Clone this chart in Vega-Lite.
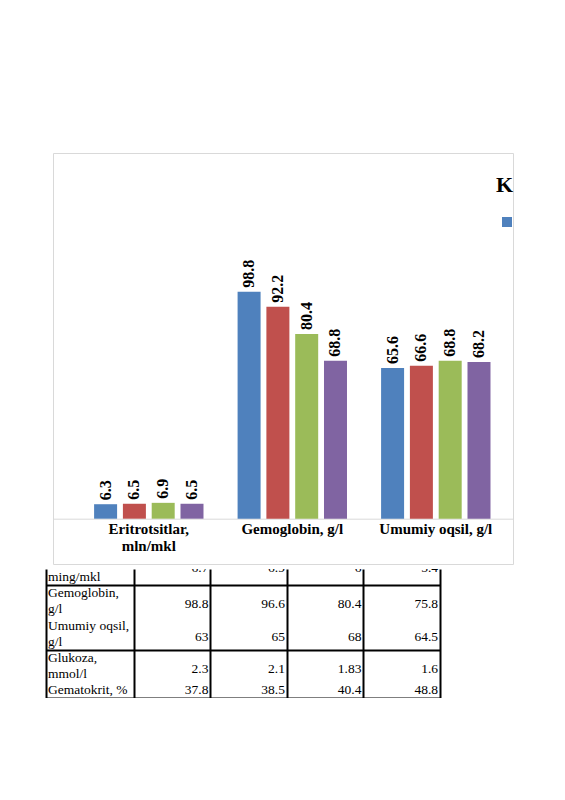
{
  "$schema": "https://vega.github.io/schema/vega-lite/v6.json",
  "background": "white",
  "padding": {"left": 46, "top": 152, "right": 0, "bottom": 0},
  "spacing": 4,
  "config": {"font": "Liberation Serif"},
  "vconcat": [
    {
      "spacing": 5,
      "hconcat": [
        {
          "width": 1,
          "height": 1,
          "view": {"stroke": null},
          "data": {"values": []},
          "mark": {"type": "point", "opacity": 0}
        },
        {
          "width": 460,
          "height": 411,
          "view": {"stroke": "#d9d9d9", "strokeWidth": 1},
          "title": {"text": "K", "anchor": "end", "frame": "group", "orient": "top", "offset": -44, "dx": 0, "font": "Liberation Serif", "fontSize": 22, "fontWeight": "bold", "color": "black"},
          "data": {"values": [
            {"cat": "Eritrotsitlar, mln/mkl", "grp": "I guruh", "v": 6.3},
            {"cat": "Eritrotsitlar, mln/mkl", "grp": "II guruh", "v": 6.5},
            {"cat": "Eritrotsitlar, mln/mkl", "grp": "III guruh", "v": 6.9},
            {"cat": "Eritrotsitlar, mln/mkl", "grp": "IV guruh", "v": 6.5},
            {"cat": "Gemoglobin, g/l", "grp": "I guruh", "v": 98.8},
            {"cat": "Gemoglobin, g/l", "grp": "II guruh", "v": 92.2},
            {"cat": "Gemoglobin, g/l", "grp": "III guruh", "v": 80.4},
            {"cat": "Gemoglobin, g/l", "grp": "IV guruh", "v": 68.8},
            {"cat": "Umumiy oqsil, g/l", "grp": "I guruh", "v": 65.6},
            {"cat": "Umumiy oqsil, g/l", "grp": "II guruh", "v": 66.6},
            {"cat": "Umumiy oqsil, g/l", "grp": "III guruh", "v": 68.8},
            {"cat": "Umumiy oqsil, g/l", "grp": "IV guruh", "v": 68.2}
          ]},
          "encoding": {
            "x": {
              "field": "cat", "type": "nominal", "sort": null,
              "scale": {"domain": ["Eritrotsitlar, mln/mkl", "Gemoglobin, g/l", "Umumiy oqsil, g/l"], "paddingInner": 0, "paddingOuter": 0.1028, "align": 0.815},
              "axis": {
                "orient": "bottom", "offset": -45.3, "title": null, "ticks": false,
                "domain": true, "domainColor": "#d9d9d9", "domainWidth": 1,
                "labelAngle": 0, "labelFont": "Liberation Serif", "labelFontSize": 15, "labelFontWeight": "bold", "labelColor": "black",
                "labelBaseline": "top", "labelPadding": 3, "labelLineHeight": 17,
                "labelExpr": "datum.value == 'Eritrotsitlar, mln/mkl' ? ['Eritrotsitlar,', 'mln/mkl'] : datum.label"
              }
            },
            "xOffset": {
              "field": "grp", "type": "nominal", "sort": null,
              "scale": {"domain": ["I guruh", "II guruh", "III guruh", "IV guruh"], "paddingInner": 0.2014, "paddingOuter": 0.592}
            },
            "y": {
              "field": "v", "type": "quantitative",
              "scale": {"domain": [-19.72, 159.17], "nice": false, "zero": false},
              "axis": null
            }
          },
          "layer": [
            {
              "mark": {"type": "bar"},
              "encoding": {
                "color": {
                  "field": "grp", "type": "nominal", "sort": null,
                  "scale": {"domain": ["I guruh", "II guruh", "III guruh", "IV guruh"], "range": ["#4f81bd", "#c0504d", "#9bbb59", "#8064a2"]},
                  "legend": {"orient": "none", "legendX": 456, "legendY": 64, "values": ["I guruh"], "labelExpr": "''", "title": null, "symbolType": "square", "symbolSize": 100, "symbolStrokeWidth": 0, "padding": 0, "symbolOpacity": 1}
                }
              }
            },
            {
              "mark": {"type": "text", "angle": 270, "align": "left", "baseline": "middle", "dx": 4, "font": "Liberation Serif", "fontSize": 16, "fontWeight": "bold", "color": "black"},
              "encoding": {"text": {"field": "v", "type": "quantitative", "format": ".1f"}}
            }
          ]
        }
      ]
    },
    {
      "width": 394,
      "height": 129,
      "view": {"stroke": null},
      "data": {"values": [
        {"kind": "label", "line": 1, "t": "ming/mkl"},
        {"kind": "label", "line": 2, "t": "Gemoglobin,"},
        {"kind": "label", "line": 3, "t": "g/l"},
        {"kind": "label", "line": 4, "t": "Umumiy oqsil,"},
        {"kind": "label", "line": 5, "t": "g/l"},
        {"kind": "label", "line": 6, "t": "Glukoza,"},
        {"kind": "label", "line": 7, "t": "mmol/l"},
        {"kind": "label", "line": 8, "t": "Gematokrit, %"},
        {"kind": "top", "line": 1, "col": 2, "t": "6.7"},
        {"kind": "top", "line": 1, "col": 3, "t": "6.9"},
        {"kind": "top", "line": 1, "col": 4, "t": "6"},
        {"kind": "top", "line": 1, "col": 5, "t": "5.4"},
        {"kind": "pair", "line": 2, "col": 2, "t": "98.8"},
        {"kind": "pair", "line": 2, "col": 3, "t": "96.6"},
        {"kind": "pair", "line": 2, "col": 4, "t": "80.4"},
        {"kind": "pair", "line": 2, "col": 5, "t": "75.8"},
        {"kind": "pair", "line": 4, "col": 2, "t": "63"},
        {"kind": "pair", "line": 4, "col": 3, "t": "65"},
        {"kind": "pair", "line": 4, "col": 4, "t": "68"},
        {"kind": "pair", "line": 4, "col": 5, "t": "64.5"},
        {"kind": "pair", "line": 6, "col": 2, "t": "2.3"},
        {"kind": "pair", "line": 6, "col": 3, "t": "2.1"},
        {"kind": "pair", "line": 6, "col": 4, "t": "1.83"},
        {"kind": "pair", "line": 6, "col": 5, "t": "1.6"},
        {"kind": "single", "line": 8, "col": 2, "t": "37.8"},
        {"kind": "single", "line": 8, "col": 3, "t": "38.5"},
        {"kind": "single", "line": 8, "col": 4, "t": "40.4"},
        {"kind": "single", "line": 8, "col": 5, "t": "48.8"}
      ]},
      "layer": [
        {
          "transform": [{"filter": "datum.kind == 'label'"}],
          "mark": {"type": "text", "align": "left", "baseline": "middle", "dx": 2, "dy": -8, "font": "Liberation Serif", "fontSize": 13.5, "color": "black"},
          "encoding": {
            "x": {
              "datum": -0.15, "type": "quantitative",
              "scale": {"domain": [-0.15, 5], "nice": false, "zero": false},
              "axis": {"orient": "bottom", "title": null, "labels": false, "ticks": false, "domain": false, "grid": true, "values": [-0.15, 1, 2, 3, 4, 5], "gridColor": "black", "gridWidth": 2, "gridOpacity": 1}
            },
            "y": {
              "field": "line", "type": "quantitative",
              "scale": {"domain": [0, 8], "nice": false, "zero": false, "reverse": true},
              "axis": {"orient": "left", "title": null, "labels": false, "ticks": false, "domain": false, "grid": true, "values": [1, 3, 5, 7, 8], "gridColor": "black", "gridWidth": 2, "gridOpacity": 1}
            },
            "text": {"field": "t"}
          }
        },
        {
          "transform": [{"filter": "datum.kind == 'top'"}],
          "mark": {"type": "text", "align": "right", "baseline": "middle", "dx": -2, "dy": -17, "clip": true, "font": "Liberation Serif", "fontSize": 13.5, "color": "black"},
          "encoding": {
            "x": {"field": "col", "type": "quantitative"},
            "y": {"field": "line", "type": "quantitative"},
            "text": {"field": "t"}
          }
        },
        {
          "transform": [{"filter": "datum.kind == 'pair'"}],
          "mark": {"type": "text", "align": "right", "baseline": "middle", "dx": -2, "dy": 3, "font": "Liberation Serif", "fontSize": 13.5, "color": "black"},
          "encoding": {
            "x": {"field": "col", "type": "quantitative"},
            "y": {"field": "line", "type": "quantitative"},
            "text": {"field": "t"}
          }
        },
        {
          "transform": [{"filter": "datum.kind == 'single'"}],
          "mark": {"type": "text", "align": "right", "baseline": "middle", "dx": -2, "dy": -8, "font": "Liberation Serif", "fontSize": 13.5, "color": "black"},
          "encoding": {
            "x": {"field": "col", "type": "quantitative"},
            "y": {"field": "line", "type": "quantitative"},
            "text": {"field": "t"}
          }
        }
      ]
    }
  ]
}
